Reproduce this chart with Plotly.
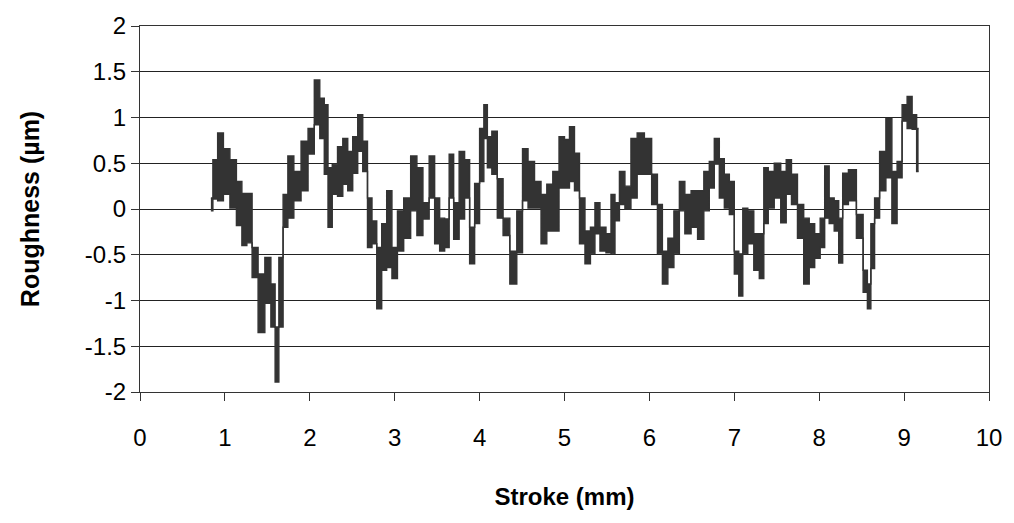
import plotly.graph_objects as go

# Surface profile: for each stroke position, the local peak and valley of the trace
stroke_mm = [
    0.835, 0.882, 0.947, 1.018, 1.100, 1.171, 1.229, 1.288, 1.353, 1.429,
    1.512, 1.571, 1.612, 1.659, 1.712, 1.771, 1.853, 1.941, 2.018, 2.088,
    2.147, 2.194, 2.235, 2.294, 2.359, 2.418, 2.476, 2.535, 2.594, 2.653,
    2.706, 2.759, 2.818, 2.876, 2.935, 3.000, 3.065, 3.147, 3.229, 3.294,
    3.371, 3.441, 3.500, 3.559, 3.618, 3.665, 3.724, 3.794, 3.853, 3.912,
    3.971, 4.029, 4.071, 4.112, 4.176, 4.241, 4.312, 4.400, 4.476, 4.535,
    4.606, 4.688, 4.759, 4.824, 4.900, 4.971, 5.029, 5.088, 5.147, 5.206,
    5.276, 5.335, 5.382, 5.453, 5.524, 5.571, 5.618, 5.676, 5.747, 5.818,
    5.894, 5.988, 6.065, 6.124, 6.182, 6.253, 6.324, 6.382, 6.453, 6.529,
    6.606, 6.676, 6.735, 6.794, 6.853, 6.912, 6.971, 7.029, 7.076, 7.124,
    7.194, 7.265, 7.324, 7.371, 7.429, 7.512, 7.582, 7.641, 7.706, 7.782,
    7.853, 7.912, 7.982, 8.041, 8.088, 8.147, 8.206, 8.253, 8.300, 8.388,
    8.488, 8.547, 8.588, 8.629, 8.676, 8.747, 8.824, 8.888, 8.947, 9.006,
    9.065, 9.124, 9.171,
]
peak_um = [
    0.12, 0.54, 0.83, 0.66, 0.54, 0.30, 0.17, 0.17, -0.42, -0.71,
    -0.53, -0.82, -1.29, -0.53, 0.16, 0.58, 0.41, 0.74, 0.88, 1.41,
    1.21, 1.14, 0.45, 0.49, 0.68, 0.77, 0.63, 0.79, 1.03, 0.74,
    0.12, -0.13, -0.42, -0.16, 0.20, -0.42, -0.02, 0.12, 0.58, 0.45,
    0.07, 0.58, 0.12, -0.10, -0.11, 0.60, 0.07, 0.63, 0.54, -0.20,
    0.28, 0.88, 1.14, 0.79, 0.85, 0.33, -0.10, -0.46, -0.02, 0.66,
    0.52, 0.30, 0.16, 0.27, 0.41, 0.79, 0.76, 0.90, 0.61, 0.12,
    -0.24, -0.20, 0.07, -0.20, -0.27, 0.16, 0.07, 0.41, 0.25, 0.77,
    0.83, 0.77, 0.38, 0.05, -0.46, -0.32, -0.02, 0.30, 0.16, 0.20,
    0.20, 0.41, 0.52, 0.77, 0.55, 0.38, 0.30, -0.46, -0.49, 0.01,
    -0.02, -0.27, -0.27, 0.45, 0.41, 0.50, 0.41, 0.54, 0.38, 0.05,
    -0.10, -0.16, -0.27, -0.10, 0.47, 0.12, 0.09, -0.10, 0.39, 0.43,
    -0.06, -0.67, -0.82, -0.16, 0.12, 0.63, 0.99, 0.41, 0.52, 1.14,
    1.23, 1.03, 0.88,
]
valley_um = [
    -0.02, 0.11, 0.09, 0.16, 0.01, -0.18, -0.40, -0.37, -0.75, -1.35,
    -1.03, -1.29, -1.89, -1.29, -0.20, -0.10, 0.09, 0.20, 0.60, 0.92,
    0.77, 0.38, -0.20, 0.16, 0.14, 0.27, 0.20, 0.39, 0.63, 0.41,
    -0.42, -0.38, -1.09, -0.67, -0.64, -0.76, -0.46, -0.32, -0.02, -0.29,
    -0.11, 0.12, -0.38, -0.46, -0.42, 0.12, -0.33, -0.11, 0.12, -0.60,
    -0.16, 0.30, 0.77, 0.45, 0.38, -0.10, -0.29, -0.82, -0.48, 0.09,
    0.01, 0.01, -0.38, -0.24, -0.24, 0.23, 0.23, 0.30, 0.20, -0.38,
    -0.60, -0.49, -0.27, -0.46, -0.48, -0.49, -0.13, 0.05, 0.00, 0.12,
    0.38, 0.38, 0.05, -0.49, -0.82, -0.64, -0.49, -0.02, -0.27, -0.20,
    -0.33, -0.02, 0.23, 0.49, 0.12, 0.01, -0.06, -0.71, -0.95, -0.49,
    -0.38, -0.67, -0.76, -0.16, 0.01, 0.12, -0.15, 0.16, 0.05, -0.32,
    -0.82, -0.64, -0.54, -0.42, -0.10, -0.16, -0.24, -0.59, 0.05, 0.09,
    -0.32, -0.91, -1.09, -0.65, -0.10, 0.20, 0.34, -0.16, 0.34, 0.96,
    0.88, 0.87, 0.41,
]

x_ticks = [0, 1, 2, 3, 4, 5, 6, 7, 8, 9, 10]
y_ticks = [2, 1.5, 1, 0.5, 0, -0.5, -1, -1.5, -2]
y_tick_text = ["2", "1.5", "1", "0.5", "0", "-0.5", "-1", "-1.5", "-2"]

font = "Liberation Sans, Arial, sans-serif"
ink = "#333333"

fig = go.Figure()

# Dense profile: band between local peaks and valleys, held as steps so
# jumps between neighbouring samples stay vertical
fig.add_trace(go.Scatter(
    x=stroke_mm, y=peak_um, mode="lines",
    line=dict(color=ink, width=1.4, shape="hvh"),
    hoverinfo="skip",
))
fig.add_trace(go.Scatter(
    x=stroke_mm, y=valley_um, mode="lines",
    line=dict(color=ink, width=1.4, shape="hvh"),
    fill="tonexty", fillcolor=ink,
    hoverinfo="skip",
))

fig.update_layout(
    width=1014, height=523,
    margin=dict(l=140, r=24, t=24, b=131),
    paper_bgcolor="white", plot_bgcolor="white",
    showlegend=False,
    font=dict(family=font, size=24, color="black"),
)
fig.update_xaxes(
    range=[0, 10], tickvals=x_ticks,
    showgrid=False, zeroline=False,
    showline=True, linecolor=ink, linewidth=1, mirror=True,
    ticks="outside", ticklen=8, tickcolor=ink,
    ticklabelstandoff=16,
    tickfont=dict(family=font, size=24),
    title=dict(text="<b>Stroke (mm)</b>", font=dict(family=font, size=24), standoff=38),
)
fig.update_yaxes(
    range=[-2, 2], tickvals=y_ticks, ticktext=y_tick_text,
    showgrid=True, gridcolor="#222222", gridwidth=1, zeroline=False,
    showline=True, linecolor=ink, linewidth=1, mirror=True,
    ticks="outside", ticklen=8, tickcolor=ink,
    tickfont=dict(family=font, size=24),
    title=dict(text="<b>Roughness (µm)</b>", font=dict(family=font, size=25), standoff=38),
)

fig.write_html("out.html")
